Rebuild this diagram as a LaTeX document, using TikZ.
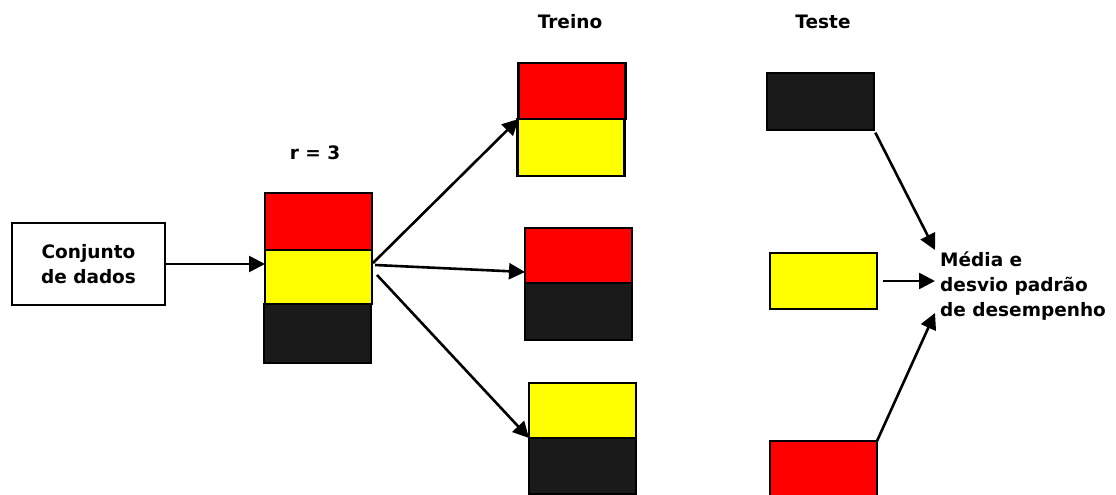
\documentclass[tikz,border=0pt]{standalone}
\usepackage{fontspec}
\setmainfont{DejaVu Sans}
\usetikzlibrary{arrows.meta,calc}
\definecolor{blkfill}{HTML}{1A1A1A}
\definecolor{redfill}{HTML}{FF0000}
\definecolor{yelfill}{HTML}{FFFF00}
\tikzset{
  block/.style={draw=black, line width=2.8pt, minimum width=107pt, minimum height=56pt, inner sep=0pt, outer sep=0pt},
  redblk/.style={block, fill=redfill},
  yelblk/.style={block, fill=yelfill},
  blkblk/.style={block, fill=blkfill},
  lbl/.style={font=\fontsize{18.5pt}{25pt}\selectfont\bfseries, inner sep=0pt},
  arr/.style={line width=2.6pt, -{Triangle[length=16pt,width=16pt]}},
}
\begin{document}
\begin{tikzpicture}[x=1pt,y=-1pt]
\useasboundingbox (0,0) rectangle (1116,495);
\begin{scope}
\clip (0,0) rectangle (1116,495);

% input box
\node[draw=black, line width=2.8pt, minimum width=153pt, minimum height=82pt, inner sep=0pt,
      lbl, align=center] (data) at (88.5,264) {Conjunto\\de dados};

% folds of the data set
\node[lbl] (r) at (315,153) {r = 3};
\node[redblk, minimum width=107pt, minimum height=57pt] (s1r) at (318.5,221.5) {};
\node[yelblk, minimum width=107pt, minimum height=54pt] (s1y) at (318.5,277) {};
\node[blkblk, minimum width=107pt, minimum height=59pt] (s1k) at (317.5,333.5) {};

% training sets
\node[lbl] (treino) at (570,22) {Treino};
\node[redblk, minimum height=56pt] (t1r) at (572,91) {};
\node[yelblk, minimum height=57pt] (t1y) at (571,147.5) {};
\node[redblk, minimum height=55pt] (t2r) at (578.5,255.5) {};
\node[blkblk, minimum height=57pt] (t2k) at (578.5,311.5) {};
\node[yelblk, minimum height=55pt] (t3y) at (582.5,410.5) {};
\node[blkblk, minimum height=56pt] (t3k) at (582.5,466) {};

% test sets
\node[lbl] (teste) at (823,22) {Teste};
\node[blkblk, minimum height=57pt] (e1) at (820.5,101.5) {};
\node[yelblk, minimum height=56pt] (e2) at (823.5,281) {};
\node[redblk, minimum height=56pt] (e3) at (823.5,469) {};

% result
\node[lbl, align=left, anchor=north west] (res) at (940,252) {Média e\\desvio padrão\\de desempenho};
\coordinate (in1) at (935,250);
\coordinate (in2) at (935,281);
\coordinate (in3) at (935,313);

% connectors
\draw[arr] (data.east) -- (s1y.west |- data.east);
\draw[arr] ($(s1y.north east)+(1,13)$) -- (t1r.south west);
\draw[arr] ($(s1y.north east)+(3,15)$) -- ($(t2r.south west)+(0,-11)$);
\draw[arr] ($(s1y.north east)+(5,25)$) -- (t3y.south west);
\draw[arr, shorten <=3pt] (e1.south east) -- (in1);
\draw[arr, shorten <=6pt] (e2.east) -- (in2);
\draw[arr] (e3.north east) -- (in3);
\end{scope}
\end{tikzpicture}
\end{document}
